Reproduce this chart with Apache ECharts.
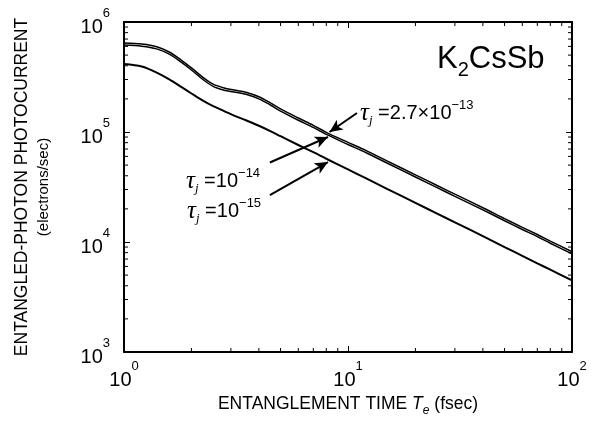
<!DOCTYPE html>
<html><head><meta charset="utf-8">
<script src="https://cdn.jsdelivr.net/npm/echarts@6/dist/echarts.min.js"></script>
<style>html,body{margin:0;padding:0;background:#fff}#c{width:609px;height:424px}</style>
</head><body><div id="c"></div>
<script>
// Entanglement time Te (fsec)
const xValues = [1, 1.2, 1.4, 1.6, 1.8, 2, 2.25, 2.5, 2.8, 3.1, 3.5, 4, 4.5, 5, 6, 7, 8, 10, 12, 15, 20, 25, 30, 40, 50, 60, 70, 80, 100];
// photocurrent (electrons/sec)
const tau27e13 = [645000, 631000, 596000, 531000, 451000, 383000, 314000, 272000, 251000, 241000, 230000, 209000, 184000, 162000, 134000, 115000, 99300, 80500, 68100, 54400, 40800, 32600, 27200, 20500, 16300, 13600, 11700, 10200, 8160];
const tau1e14 = [617000, 603000, 570000, 508000, 431000, 366000, 300000, 260000, 240000, 231000, 220000, 200000, 176000, 155000, 128000, 110000, 95000, 77000, 65100, 52000, 39000, 31200, 26000, 19600, 15600, 13000, 11200, 9750, 7800];
const tau1e15 = [415000, 394000, 347000, 299000, 257000, 224000, 193000, 172000, 155000, 141000, 128000, 114000, 102000, 91600, 76200, 65500, 57100, 45700, 38000, 30300, 22700, 18100, 15100, 11300, 9000, 7480, 6400, 5600, 4470];
// axis ranges and minor tick values
const xRange = [1, 100];
const yRange = [1000, 1000000];
const xMinorTicks = [2, 3, 4, 5, 6, 7, 8, 9, 20, 30, 40, 50, 60, 70, 80, 90];
const yMinorTicks = [2000, 3000, 4000, 5000, 6000, 7000, 8000, 9000, 20000, 30000, 40000, 50000, 60000, 70000, 80000, 90000, 200000, 300000, 400000, 500000, 600000, 700000, 800000, 900000];
// annotation arrows: [tail, tip] in data coordinates
const arrows = [
  [[10.97, 149000], [8.27, 100000]],
  [[4.48, 52800], [8.14, 90100]],
  [[4.48, 26700], [8.14, 53300]]
];

const FONT = 'Liberation Sans';
const SERIF = 'Liberation Serif';
const pairs = arr => xValues.map((x, i) => [x, arr[i]]);
const expLabel = v => '{b|10}{s|' + Math.round(Math.log10(v)) + '}';
const labelRich = {
  b: {fontSize: 20, fontFamily: FONT, color: '#000', lineHeight: 30, verticalAlign: 'bottom'},
  s: {fontSize: 13, fontFamily: FONT, color: '#000', lineHeight: 13, verticalAlign: 'top'}
};
const axisLine = {show: true, onZero: false, lineStyle: {color: '#000', width: 2}};
const axisTick = {show: true, inside: true, length: 6, lineStyle: {color: '#000', width: 1}};

const lineSeries = (name, arr, w) => ({
  name, type: 'line', data: pairs(arr), showSymbol: false, symbol: 'none', smooth: 0.3,
  lineStyle: {color: '#000', width: w}, silent: true, animation: false, z: 3
});

function minorTickSeries(axis) {
  const data = axis === 'x' ? xMinorTicks.map(v => [v, yRange[0]]) : yMinorTicks.map(v => [xRange[0], v]);
  return {
    type: 'custom', silent: true, animation: false, clip: false, z: 6, data,
    renderItem: (params, api) => {
      const v = api.value(axis === 'x' ? 0 : 1);
      let a, b, seg;
      if (axis === 'x') {
        a = api.coord([v, yRange[0]]); b = api.coord([v, yRange[1]]);
        seg = [[a[0], a[1], a[0], a[1] - 4], [b[0], b[1], b[0], b[1] + 4]];
      } else {
        a = api.coord([xRange[0], v]); b = api.coord([xRange[1], v]);
        seg = [[a[0], a[1], a[0] + 4, a[1]], [b[0], b[1], b[0] - 4, b[1]]];
      }
      return {type: 'group', children: seg.map(s => ({
        type: 'line', shape: {x1: s[0], y1: s[1], x2: s[2], y2: s[3]},
        style: {stroke: '#000', lineWidth: 1}
      }))};
    }
  };
}

const tauRich = {
  t: {fontFamily: SERIF, fontStyle: 'italic', fontSize: 25, lineHeight: 28, fill: '#000', color: '#000'},
  j: {fontFamily: SERIF, fontStyle: 'italic', fontSize: 13, lineHeight: 13, verticalAlign: 'bottom', fill: '#000', color: '#000'},
  n: {fontFamily: FONT, fontSize: 20, lineHeight: 28, fill: '#000', color: '#000'},
  s: {fontFamily: FONT, fontSize: 13, lineHeight: 13, verticalAlign: 'top', fill: '#000', color: '#000'}
};
function tauText(x, y, main, sup) {
  return {
    type: 'text', x, y, silent: true, z: 10,
    style: {
      text: '{t|τ}{j|j}{n| =' + main + '}{s|' + sup + '}',
      rich: tauRich, fill: '#000', align: 'left', verticalAlign: 'middle',
      textAlign: 'left', textVerticalAlign: 'middle'
    }
  };
}

const chart = echarts.init(document.getElementById('c'), null, {renderer: 'canvas'});
chart.setOption({
  animation: false,
  backgroundColor: '#fff',
  textStyle: {fontFamily: FONT, color: '#000'},
  grid: {left: 124, right: 37, top: 22, bottom: 72, containLabel: false, outerBoundsMode: 'none'},
  xAxis: [
    {type: 'log', logBase: 10, min: xRange[0], max: xRange[1], position: 'bottom',
     axisLine, axisTick, splitLine: {show: false}, minorTick: {show: false},
     axisLabel: {formatter: expLabel, rich: labelRich, margin: 8, color: '#000'},
     name: '{n|ENTANGLEMENT TIME }{i|T}{e|e}{n| (fsec)}', nameLocation: 'middle', nameGap: 36,
     nameTextStyle: {rich: {
       n: {fontFamily: FONT, fontSize: 17.5, color: '#000', lineHeight: 22, verticalAlign: 'top'},
       i: {fontFamily: FONT, fontStyle: 'italic', fontSize: 17.5, color: '#000', lineHeight: 22, verticalAlign: 'top'},
       e: {fontFamily: FONT, fontStyle: 'italic', fontSize: 12, color: '#000', lineHeight: 12, verticalAlign: 'bottom'}
     }}},
    {type: 'log', logBase: 10, min: xRange[0], max: xRange[1], position: 'top',
     axisLine, axisTick, splitLine: {show: false}, axisLabel: {show: false}}
  ],
  yAxis: [
    {type: 'log', logBase: 10, min: yRange[0], max: yRange[1], position: 'left',
     axisLine, axisTick, splitLine: {show: false},
     axisLabel: {formatter: expLabel, rich: labelRich, margin: 14, color: '#000'}},
    {type: 'log', logBase: 10, min: yRange[0], max: yRange[1], position: 'right',
     axisLine, axisTick, splitLine: {show: false}, axisLabel: {show: false}}
  ],
  series: [
    lineSeries('τj = 2.7×10^-13', tau27e13, 1.5),
    lineSeries('τj = 10^-14', tau1e14, 1.5),
    Object.assign(lineSeries('τj = 10^-15', tau1e15, 2), {
      markLine: {
        silent: true, animation: false, symbol: ['none', 'arrow'], symbolSize: [9, 13],
        label: {show: false}, emphasis: {disabled: true},
        lineStyle: {color: '#000', width: 2, type: 'solid'},
        data: arrows.map(a => [{coord: a[0]}, {coord: a[1]}])
      }
    }),
    minorTickSeries('x'),
    minorTickSeries('y')
  ],
  graphic: [
    {type: 'text', x: 22, y: 187, rotation: Math.PI / 2, silent: true,
     style: {text: 'ENTANGLED-PHOTON PHOTOCURRENT', font: '17.5px "Liberation Sans"', fill: '#000',
       align: 'center', verticalAlign: 'middle', textAlign: 'center', textVerticalAlign: 'middle'}},
    {type: 'text', x: 44, y: 187, rotation: Math.PI / 2, silent: true,
     style: {text: '(electrons/sec)', font: '15px "Liberation Sans"', fill: '#000',
       align: 'center', verticalAlign: 'middle', textAlign: 'center', textVerticalAlign: 'middle'}},
    {type: 'text', x: 437, y: 44, silent: true, z: 10,
     style: {text: '{k|K}{u|2}{k|CsSb}', align: 'left', verticalAlign: 'top', textAlign: 'left', textVerticalAlign: 'top',
       rich: {
         k: {fontFamily: FONT, fontSize: 31, lineHeight: 30, verticalAlign: 'top', fill: '#000', color: '#000'},
         u: {fontFamily: FONT, fontSize: 20, lineHeight: 20, verticalAlign: 'top', padding: [16, 0, 0, 0], fill: '#000', color: '#000'}
       }}},
    tauText(360, 113, '2.7×10', '−13'),
    tauText(186, 181, '10', '−14'),
    tauText(187, 211, '10', '−15')
  ]
});
</script>
</body></html>
